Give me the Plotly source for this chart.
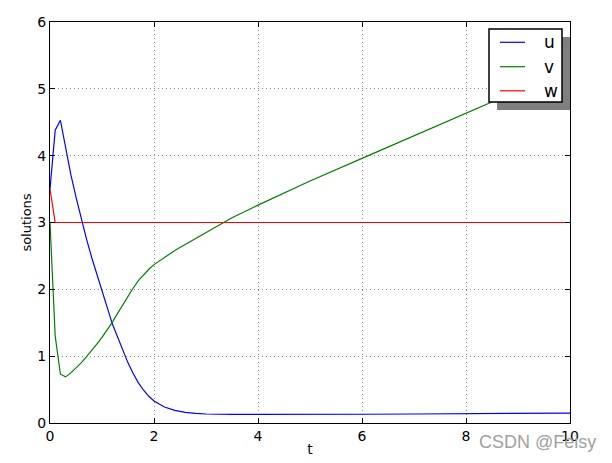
import plotly.graph_objects as go

t = [0, 0.1, 0.2, 0.3, 0.4, 0.5, 0.6, 0.7, 0.8, 0.9, 1.0, 1.1, 1.2, 1.3, 1.4, 1.5,
     1.6, 1.7, 1.8, 1.9, 2.0, 2.2, 2.4, 2.6, 2.8, 3.0, 3.5, 4.0, 5, 6, 7, 8, 9, 10]
u = [3.5, 4.38, 4.53, 4.12, 3.72, 3.38, 3.06, 2.76, 2.48, 2.22, 1.97, 1.73, 1.48, 1.28,
     1.08, 0.90, 0.74, 0.60, 0.49, 0.40, 0.33, 0.24, 0.19, 0.16, 0.145, 0.135, 0.128,
     0.127, 0.128, 0.131, 0.135, 0.139, 0.143, 0.148]
v = [3.0, 1.30, 0.73, 0.69, 0.75, 0.82, 0.90, 0.99, 1.08, 1.18, 1.28, 1.39, 1.51, 1.64,
     1.77, 1.90, 2.02, 2.13, 2.22, 2.30, 2.37, 2.48, 2.58, 2.67, 2.76, 2.85, 3.07, 3.26,
     3.62, 3.96, 4.30, 4.64, 4.98, 5.31]
w = [3.5] + [3.0] * (len(t) - 1)

series_names = ["u", "v", "w"]
series_colors = ["#0000ff", "#008000", "#ff0000"]

x_ticks = [0, 2, 4, 6, 8, 10]
y_ticks = [0, 1, 2, 3, 4, 5, 6]

FONT = "DejaVu Sans"

fig = go.Figure()
for name, ys, col in zip(series_names, [u, v, w], series_colors):
    fig.add_trace(go.Scatter(x=t, y=ys, mode="lines", name=name,
                             line=dict(color=col, width=1.2), showlegend=False))

axis_common = dict(
    showline=True, linecolor="black", linewidth=1, mirror="ticks",
    ticks="inside", ticklen=5, tickcolor="black", automargin=False,
    showgrid=True, gridcolor="#8a8a8a", griddash="1px,3px", gridwidth=1,
    zeroline=False, tickfont=dict(family=FONT, size=14, color="black"),
)

# page body has an 8px margin; plot area spans x 50..570, y 22..423 in the window
fig.update_layout(
    width=604, height=455,
    margin=dict(l=42, r=42, t=14, b=40),
    paper_bgcolor="white", plot_bgcolor="white",
    font=dict(family=FONT, color="black"),
    xaxis=dict(range=[0, 10], tickvals=x_ticks,
               title=dict(text="t", font=dict(size=14), standoff=1),
               **axis_common),
    yaxis=dict(range=[0, 6], tickvals=y_ticks,
               title=dict(text="solutions", font=dict(size=13), standoff=2),
               **axis_common),
    showlegend=False,
)


def px(xw):
    return (xw - 50) / 520


def py(yw):
    return (423 - yw) / 401


# legend box with drop shadow (window pixel positions converted to paper coords)
fig.add_shape(type="rect", xref="paper", yref="paper",
              x0=px(497), x1=px(570), y0=py(110), y1=py(37),
              fillcolor="#7f7f7f", line=dict(width=0), layer="above")
fig.add_shape(type="rect", xref="paper", yref="paper",
              x0=px(489), x1=px(562), y0=py(102), y1=py(29),
              fillcolor="white", line=dict(color="black", width=1.5), layer="above")
row_y = [42.3, 66.7, 90.8]
for name, col, ry in zip(series_names, series_colors, row_y):
    fig.add_shape(type="line", xref="paper", yref="paper",
                  x0=px(500), x1=px(525), y0=py(ry), y1=py(ry),
                  line=dict(color=col, width=1.2), layer="above")
    fig.add_annotation(text=name, xref="paper", yref="paper",
                       x=px(542), y=py(ry), xanchor="left", yanchor="middle",
                       showarrow=False, font=dict(family=FONT, size=17, color="black"))

fig.add_annotation(text="CSDN @Feisy", xref="paper", yref="paper",
                   x=px(598), y=py(442), xanchor="right", yanchor="middle",
                   showarrow=False, font=dict(family="Liberation Sans", size=18, color="#a0a0a0"))

fig.write_html("out.html")
